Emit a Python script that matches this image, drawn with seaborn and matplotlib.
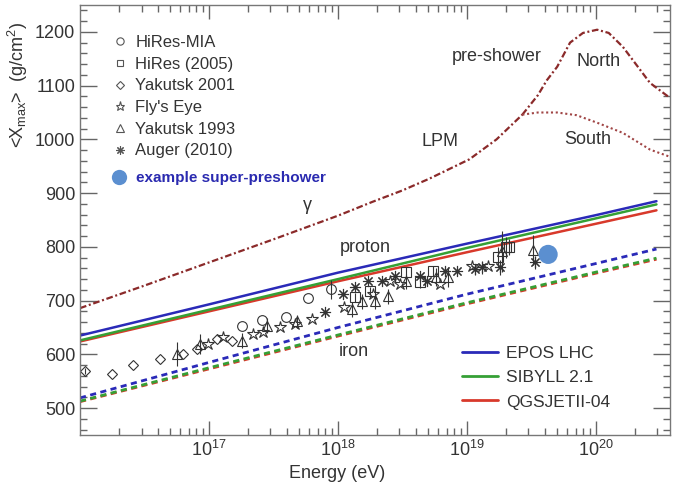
import numpy as np
import pandas as pd
import matplotlib
matplotlib.use("Agg")
import matplotlib.pyplot as plt
import seaborn as sns
from matplotlib.lines import Line2D
from matplotlib.ticker import FixedLocator, MultipleLocator, LogLocator, NullFormatter

# --- photon pre-shower curves (log10 E/eV, <Xmax> g/cm^2) ---
gamma_logE = [16.0, 16.5, 17.0, 17.5, 18.0, 18.27, 18.5, 18.71, 19.02, 19.23, 19.43]
gamma_xmax = [686, 728, 771, 814, 858, 884, 905, 927, 963, 1000, 1046]
north_logE = [19.43, 19.55, 19.62, 19.70, 19.80, 19.90, 20.01, 20.10, 20.21, 20.42, 20.57]
north_xmax = [1046, 1082, 1110, 1135, 1180, 1198, 1204, 1198, 1172, 1105, 1078]
south_logE = [19.43, 19.55, 19.70, 19.85, 20.01, 20.21, 20.42, 20.57]
south_xmax = [1046, 1050, 1050, 1045, 1031, 1012, 981, 968]

# --- hadronic model predictions ---
model_logE = [16.0, 17.0, 18.0, 19.0, 20.0, 20.47]
epos_p = [635, 693, 752, 806, 859, 885]
sibyll_p = [626, 683, 740, 798, 853, 879]
qgsjet_p = [624, 680, 736, 790, 843, 868]
epos_fe = [519, 585, 650, 712, 769, 796]
sibyll_fe = [513, 575, 636, 696, 753, 779]
qgsjet_fe = [512, 573, 634, 694, 751, 777]
model_names = ["EPOS LHC", "SIBYLL 2.1", "QGSJETII-04"]
model_colors = ["#2a2ab8", "#35a035", "#d8392b"]

# --- measurements ---
mia_logE = [17.26, 17.41, 17.60, 17.77, 17.95]
mia_xmax = [653, 664, 669, 704, 721]
mia_err = [0, 0, 0, 0, 18]

hires_logE = [18.13, 18.25, 18.53, 18.64, 18.74, 19.24, 19.30, 19.33]
hires_xmax = [706, 718, 753, 734, 755, 781, 799, 799]
hires_err = [8, 8, 10, 10, 10, 18, 20, 15]

yak01_logE = [16.04, 16.25, 16.41, 16.62, 16.80, 16.91, 17.06, 17.18]
yak01_xmax = [569, 564, 580, 591, 601, 610, 629, 625]
yak01_err = [6, 0, 0, 0, 0, 0, 0, 0]

fly_logE = [16.99, 17.11, 17.34, 17.42, 17.55, 17.67, 17.80, 18.05, 18.27, 18.40,
            18.48, 18.79, 19.04, 19.16]
fly_xmax = [619, 632, 638, 642, 651, 656, 666, 688, 712, 736, 731, 731, 764, 764]

yak93_logE = [16.75, 16.93, 17.26, 17.45, 17.68, 18.11, 18.19, 18.29, 18.39, 18.53,
              18.76, 18.85, 19.27, 19.51]
yak93_xmax = [601, 619, 625, 653, 662, 684, 699, 699, 708, 736, 744, 744, 792, 795]
yak93_err = [22, 18, 14, 14, 12, 14, 14, 14, 14, 14, 16, 18, 38, 28]

auger_logE = [17.90, 18.04, 18.13, 18.23, 18.34, 18.44, 18.64, 18.69, 18.83, 18.92,
              19.06, 19.12, 19.26, 19.53]
auger_xmax = [679, 712, 725, 736, 736, 745, 745, 736, 755, 755, 758, 762, 762, 771]
auger_err = [6, 5, 5, 5, 5, 5, 6, 6, 7, 8, 10, 12, 14, 12]

example_logE = [19.63]
example_xmax = [786]

sns.set_style("ticks")
plt.rcParams["font.family"] = ["Liberation Sans", "DejaVu Sans"]
plt.rcParams["mathtext.fontset"] = "custom"
plt.rcParams["mathtext.rm"] = "Liberation Sans"
plt.rcParams["mathtext.it"] = "Liberation Sans:italic"

fig = plt.figure(figsize=(6.86, 4.88), dpi=100)
ax = fig.add_axes([80 / 686, 1 - 435 / 488, 590 / 686, 430 / 488])

dark = "#333333"
gcol = "#8b2a2a"
gdash = (0, (3, 1.2, 0.9, 1.2))

# photon curves
sns.lineplot(x=np.power(10.0, gamma_logE), y=gamma_xmax, ax=ax, color=gcol,
             lw=1.6, linestyle=gdash, sort=False)
sns.lineplot(x=np.power(10.0, north_logE), y=north_xmax, ax=ax, color=gcol,
             lw=1.6, linestyle=gdash, sort=False)
sns.lineplot(x=np.power(10.0, south_logE), y=south_xmax, ax=ax, color="#a04545",
             lw=1.5, linestyle=(0, (1, 1.3)), sort=False)

# proton / iron model lines
rows = []
for name, p, fe in zip(model_names, [epos_p, sibyll_p, qgsjet_p], [epos_fe, sibyll_fe, qgsjet_fe]):
    for e, vp, vf in zip(model_logE, p, fe):
        rows.append({"model": name, "E": 10 ** e, "proton": vp, "iron": vf})
models = pd.DataFrame(rows)
pal = dict(zip(model_names, model_colors))
sns.lineplot(data=models, x="E", y="proton", hue="model", hue_order=model_names[::-1],
             palette=pal, lw=1.8, legend=False, ax=ax)
sns.lineplot(data=models, x="E", y="iron", hue="model", hue_order=model_names[::-1],
             palette=pal, lw=2.0, linestyle=(0, (2.2, 1.6)), legend=False, ax=ax)

# data points
series = [
    (mia_logE, mia_xmax, mia_err, "o", 7, "HiRes-MIA"),
    (hires_logE, hires_xmax, hires_err, "s", 6.5, "HiRes (2005)"),
    (yak01_logE, yak01_xmax, yak01_err, "D", 5, "Yakutsk 2001"),
    (fly_logE, fly_xmax, [0] * len(fly_logE), "*", 9, "Fly's Eye"),
    (yak93_logE, yak93_xmax, yak93_err, "^", 7, "Yakutsk 1993"),
    (auger_logE, auger_xmax, auger_err, (8, 2, 0), 8, "Auger (2010)"),
]
handles = []
for le, xm, er, mk, ms, lab in series:
    ax.errorbar(np.power(10.0, le), xm, yerr=er, fmt="none", ecolor=dark, elinewidth=0.8)
    ax.plot(np.power(10.0, le), xm, linestyle="none", marker=mk, ms=ms,
            mfc="none", mec=dark, mew=0.8)
    handles.append(Line2D([], [], linestyle="none", marker=mk, ms=ms * 0.75,
                          mfc="none", mec="#555555", mew=0.8, label=lab))

sns.scatterplot(x=np.power(10.0, example_logE), y=example_xmax, ax=ax, s=190,
                color="#5b8fd0", edgecolor="none", zorder=5)

# annotations
txt = dict(fontsize=13, color="#333333", ha="center", va="center")
ax.text(10 ** 19.23, 1154, "pre-shower", **txt)
ax.text(10 ** 20.02, 1144, "North", **txt)
ax.text(10 ** 18.79, 996, "LPM", **txt)
ax.text(10 ** 19.94, 1000, "South", **txt)
ax.text(10 ** 17.76, 877, "γ", **txt)
ax.text(10 ** 18.21, 799, "proton", **txt)
ax.text(10 ** 18.12, 606, "iron", **txt)

# axes
ax.set_xscale("log")
ax.set_xlim(1e16, 10 ** 20.575)
ax.set_ylim(450, 1250)
ax.xaxis.set_major_locator(FixedLocator([1e17, 1e18, 1e19, 1e20]))
ax.xaxis.set_minor_locator(LogLocator(base=10, subs=np.arange(2, 10) * 1.0, numticks=100))
ax.xaxis.set_minor_formatter(NullFormatter())
ax.yaxis.set_major_locator(MultipleLocator(100))
ax.yaxis.set_minor_locator(MultipleLocator(20))
ax.tick_params(axis="both", which="both", direction="in", top=True, right=True,
               colors="#666666", labelcolor="#333333", labelsize=13, width=1.0)
ax.tick_params(axis="y", which="major", length=12)
ax.tick_params(axis="x", which="major", length=10)
ax.tick_params(axis="both", which="minor", length=5)
for sp in ax.spines.values():
    sp.set_color("#777777")
    sp.set_linewidth(1.0)

ax.set_xlabel("Energy (eV)", fontsize=13, color="#333333")
ax.xaxis.set_label_coords(0.436, -0.07)
ax.set_ylabel(r"<X$_{\mathrm{max}}$>  (g/cm$^2$)", fontsize=13, color="#333333", loc="top")
ax.yaxis.set_label_coords(-0.085, 0.96)

# legends
leg1 = ax.legend(handles=handles, loc="upper left", bbox_to_anchor=(0.054, 0.93),
                 frameon=False, fontsize=12, handlelength=1.0, handletextpad=0.4,
                 labelspacing=0.4, borderpad=0, borderaxespad=0)
for t in leg1.get_texts():
    t.set_color("#333333")
ax.add_artist(leg1)

ex_handle = Line2D([], [], linestyle="none", marker="o", ms=11, mfc="#5b8fd0",
                   mec="none", label="example super-preshower")
leg2 = ax.legend(handles=[ex_handle], loc="upper left", bbox_to_anchor=(0.054, 0.613),
                 frameon=False, fontsize=11, handlelength=1.0, handletextpad=0.6,
                 borderpad=0, borderaxespad=0)
for t in leg2.get_texts():
    t.set_color("#2a2ab0")
    t.set_fontweight("bold")
ax.add_artist(leg2)

mhandles = [Line2D([], [], color=c, lw=2, label=n) for n, c in zip(model_names, model_colors)]
leg3 = ax.legend(handles=mhandles, loc="upper left", bbox_to_anchor=(0.647, 0.207),
                 frameon=False, fontsize=12.5, handlelength=2.1, handletextpad=0.45,
                 labelspacing=0.52, borderpad=0, borderaxespad=0)
for t in leg3.get_texts():
    t.set_color("#333333")

fig.savefig("out.png", dpi=100)
